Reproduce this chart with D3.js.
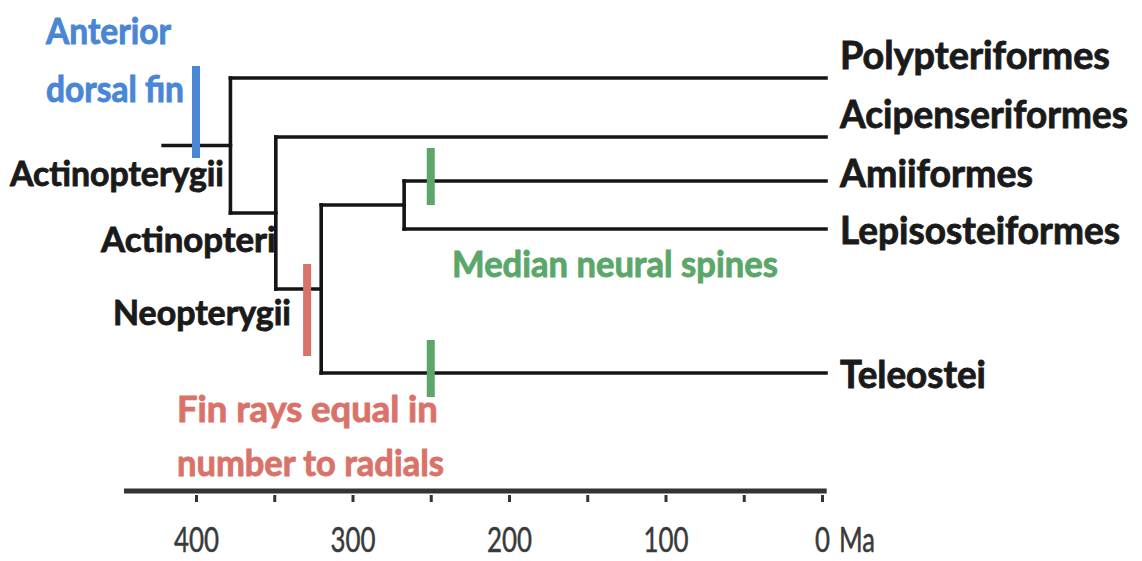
<!DOCTYPE html>
<html>
<head>
<meta charset="utf-8">
<script src="https://cdn.jsdelivr.net/npm/d3@7"></script>
<style>
  html, body { margin: 0; padding: 0; background: #ffffff; }
  svg { display: block; }
</style>
</head>
<body>
<svg id="chart" width="1142" height="561"></svg>
<script>
// ---------------- DATA ----------------
// Tree nodes: id, parent, age (Ma) of the node
const nodeIds     = ["root", "Actinopteri", "Neopterygii", "Holostei",
                     "Polypteriformes", "Acipenseriformes", "Amiiformes", "Lepisosteiformes", "Teleostei"];
const nodeParents = ["", "root", "Actinopteri", "Neopterygii",
                     "root", "Actinopteri", "Holostei", "Holostei", "Neopterygii"];
const nodeAges    = [378, 349, 320, 267, 0, 0, 0, 0, 0];
const stemAge     = 421;               // start of the stem branch (Ma)

// Tip order (top to bottom)
const tipNames = ["Polypteriformes", "Acipenseriformes", "Amiiformes", "Lepisosteiformes", "Teleostei"];

// Clade labels
const cladeLabels = ["Actinopterygii", "Actinopteri", "Neopterygii"];

// Character markers: label, age (Ma), branch (child node id)
const markerNames  = ["Anterior dorsal fin", "Fin rays equal in number to radials", "Median neural spines", "Median neural spines"];
const markerAges   = [400, 329, 250, 250];
const markerBranch = ["root", "Neopterygii", "Amiiformes", "Teleostei"];

// Axis
const tickValues  = [400, 350, 300, 250, 200, 150, 100, 50, 0];
const labelValues = [400, 300, 200, 100, 0];
const axisExtent  = [446, -3];
const axisUnit    = "Ma";

// ---------------- LAYOUT ----------------
const FONT = "Lato, 'Open Sans', sans-serif";
const svg = d3.select("#chart");
const x = d3.scaleLinear().domain([400, 0]).range([196, 822]);
const tipY = d3.scaleOrdinal().domain(tipNames).range([78, 137, 181, 229, 373]);
const tipLabelY = d3.scaleOrdinal().domain(tipNames).range([69, 128, 187, 244, 388]);
const tipLabelW = d3.scaleOrdinal().domain(tipNames).range([270, 288, 193, 280, 146]);

// draws a text whose left edge is at (x0, y0) and whose rendered width is w
function fitText(parent, str, x0, y0, w, size, weight, color, strokeW) {
  const t = parent.append("text").attr("x", 0).attr("y", 0)
    .attr("font-family", FONT).attr("font-weight", weight).attr("font-size", size)
    .attr("fill", color).attr("stroke", color).attr("stroke-width", strokeW)
    .text(str);
  const nat = t.node().getComputedTextLength() || w;
  t.attr("transform", `translate(${x0},${y0}) scale(${w / nat},1)`);
  return t;
}

const table = nodeIds.map((id, i) => ({id, parent: nodeParents[i] || null, age: nodeAges[i]}));
const root = d3.stratify().id(d => d.id).parentId(d => d.parent)(table);
root.eachAfter(n => {
  if (!n.children) { n.y = tipY(n.id); n.rank = tipNames.indexOf(n.id); }
  else {
    n.children.sort((a, b) => a.rank - b.rank);
    n.rank = d3.min(n.children, c => c.rank);
    n.y = (n.children[0].y + n.children[n.children.length - 1].y) / 2;
  }
});
const byId = new Map(root.descendants().map(n => [n.id, n]));

const lineColor = "#151515";
const treeG = svg.append("g").attr("fill", "none").attr("stroke", lineColor)
  .attr("stroke-width", 3.6).attr("stroke-linecap", "square");

// stem
treeG.append("line").attr("x1", x(stemAge)).attr("x2", x(root.data.age))
  .attr("y1", root.y).attr("y2", root.y);
// horizontal branches
root.descendants().filter(n => n.parent).forEach(n => {
  treeG.append("line").attr("x1", x(n.parent.data.age)).attr("x2", x(n.data.age) + (n.children ? 0 : 4))
    .attr("y1", n.y).attr("y2", n.y);
});
// vertical connectors
root.descendants().filter(n => n.children).forEach(n => {
  const ys = n.children.map(c => c.y);
  treeG.append("line").attr("x1", x(n.data.age)).attr("x2", x(n.data.age))
    .attr("y1", d3.min(ys)).attr("y2", d3.max(ys));
});

// markers
const markerColor = d3.scaleOrdinal().domain(["Anterior dorsal fin", "Fin rays equal in number to radials", "Median neural spines"])
  .range(["#4a86d6", "#d9736a", "#5aa769"]);
const markerSpan = { "Anterior dorsal fin": [66, 158], "Fin rays equal in number to radials": [264, 356], "Median neural spines": [-33, 24] };
markerNames.forEach((m, i) => {
  const b = byId.get(markerBranch[i]);
  let y1, y2;
  if (m === "Median neural spines") { y1 = b.y + markerSpan[m][0]; y2 = b.y + markerSpan[m][1]; }
  else { y1 = markerSpan[m][0]; y2 = markerSpan[m][1]; }
  svg.append("rect").attr("x", x(markerAges[i]) - 4).attr("width", 8)
    .attr("y", y1).attr("height", y2 - y1).attr("fill", markerColor(m));
});

// tip labels
const tipG = svg.append("g");
tipNames.forEach(d => fitText(tipG, d, 840, tipLabelY(d), tipLabelW(d), 39, 700, "#1a1a1a", 0.9));

// clade labels
const cladePos = [[10, 186, 214], [101, 252, 175], [113, 325, 178]];
const cladeG = svg.append("g");
cladeLabels.forEach((d, i) => fitText(cladeG, d, cladePos[i][0], cladePos[i][1], cladePos[i][2], 35, 700, "#1a1a1a", 0.9));

// marker labels (multi-line)
const markerText = [
  { m: "Anterior dorsal fin", lines: ["Anterior", "dorsal fin"], pos: [[46, 44, 125], [46, 102, 138]] },
  { m: "Median neural spines", lines: ["Median neural spines"], pos: [[452, 277, 326]] },
  { m: "Fin rays equal in number to radials", lines: ["Fin rays equal in", "number to radials"], pos: [[177, 422, 261], [177, 476, 267]] }
];
const mkG = svg.append("g");
markerText.forEach(t => {
  const col = markerColor(t.m);
  t.lines.forEach((ln, j) => fitText(mkG, ln, t.pos[j][0], t.pos[j][1], t.pos[j][2], 36, 700, col, 0.9));
});

// axis
const axisY = 491;
svg.append("line").attr("x1", x(axisExtent[0])).attr("x2", x(axisExtent[1]))
  .attr("y1", axisY).attr("y2", axisY).attr("stroke", "#333").attr("stroke-width", 5);
const axisG = svg.append("g").attr("transform", `translate(0,${axisY})`)
  .call(d3.axisBottom(x).tickValues(tickValues).tickSize(0)
    .tickFormat(d => labelValues.includes(d) ? d3.format("d")(d) : ""));
axisG.select(".domain").remove();
axisG.attr("font-family", FONT).attr("font-size", 35);
axisG.selectAll(".tick line").attr("y1", 4).attr("y2", 11).attr("stroke", "#333").attr("stroke-width", 3);
axisG.selectAll(".tick text").attr("y", 61).attr("dy", "0")
  .attr("font-weight", 400).attr("fill", "#3a3a3a").attr("stroke", "#3a3a3a").attr("stroke-width", 0.5)
  .attr("textLength", d => String(d).length * 15).attr("lengthAdjust", "spacingAndGlyphs");
fitText(svg, axisUnit, x(0) + 17, axisY + 61, 36, 35, 400, "#3a3a3a", 0.5);
</script>
</body>
</html>
